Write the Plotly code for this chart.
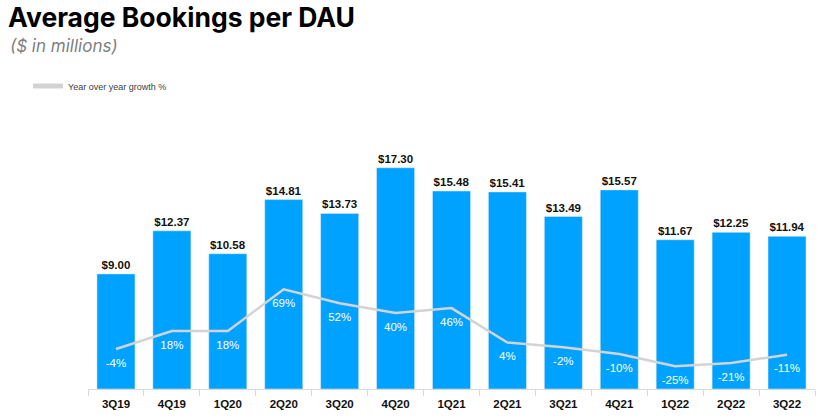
import plotly.graph_objects as go

quarters = ["3Q19", "4Q19", "1Q20", "2Q20", "3Q20", "4Q20", "1Q21",
            "2Q21", "3Q21", "4Q21", "1Q22", "2Q22", "3Q22"]
bookings_per_dau = [9.00, 12.37, 10.58, 14.81, 13.73, 17.30, 15.48,
                    15.41, 13.49, 15.57, 11.67, 12.25, 11.94]
yoy_growth = [-4, 18, 18, 69, 52, 40, 46, 4, -2, -10, -25, -21, -11]

BLUE = "#00A2FF"
GREY_LINE = "#D3D3D3"

fig = go.Figure()

fig.add_trace(go.Bar(
    x=quarters,
    y=bookings_per_dau,
    marker_color=BLUE,
    text=[f"<b>${v:.2f}</b>" for v in bookings_per_dau],
    textposition="outside",
    textfont=dict(family="Liberation Sans, Arial", size=11.5, color="#111111"),
    cliponaxis=False,
    showlegend=False,
))

fig.add_trace(go.Scatter(
    x=quarters,
    y=yoy_growth,
    yaxis="y2",
    mode="lines+markers+text",
    name="Year over year growth %",
    line=dict(color=GREY_LINE, width=2.5),
    marker=dict(size=13, color="rgba(0,0,0,0)"),
    text=[f"{v}%" for v in yoy_growth],
    textposition="bottom center",
    textfont=dict(family="Liberation Sans, Arial", size=11.5, color="white"),
))

fig.update_layout(
    width=822,
    height=417,
    margin=dict(l=88, r=7, t=100, b=28, autoexpand=False),
    paper_bgcolor="white",
    plot_bgcolor="white",
    bargap=0.32,
    title=dict(
        text="<b>Average Bookings per DAU</b>",
        font=dict(family="Inter, Roboto, Arial", size=26.5, color="black"),
        x=8 / 822, xref="container", xanchor="left",
        y=1 - 18 / 417, yref="container", yanchor="middle",
    ),
    annotations=[dict(
        text="<i>($ in millions)</i>",
        xref="paper", yref="paper",
        x=-80 / 727, xanchor="left",
        y=1 + (100 - 46) / 289, yanchor="middle",
        showarrow=False,
        font=dict(family="Inter, Roboto, Arial", size=17, color="#7F7F7F"),
    )],
    legend=dict(
        x=28 / 822, xref="container", xanchor="left",
        y=1 - 86 / 417, yref="container", yanchor="middle",
        font=dict(family="Liberation Sans, Arial", size=9, color="#404040"),
        bgcolor="rgba(0,0,0,0)",
        itemsizing="constant",
    ),
    xaxis=dict(
        type="category",
        range=[-0.5, 12.5],
        automargin=False,
        showline=True,
        linecolor="#D9D9D9",
        linewidth=1,
        ticks="outside",
        tickson="boundaries",
        ticklen=6,
        tickcolor="#D9D9D9",
        tickfont=dict(family="Liberation Sans, Arial", size=11.5, color="#111111"),
        ticklabelstandoff=4,
        showgrid=False,
        tickprefix="<b>",
        ticksuffix="</b>",
    ),
    yaxis=dict(
        range=[0, 22.6],
        visible=False,
        automargin=False,
        showgrid=False,
        zeroline=False,
    ),
    yaxis2=dict(
        range=[-52.9, 300.4],
        overlaying="y",
        visible=False,
        automargin=False,
        showgrid=False,
        zeroline=False,
    ),
)

# drop the default 8px body margin so the figure sits at the page corner
fig.write_html("out.html", config={"displayModeBar": False},
               post_script="document.body.style.margin = '0';")
